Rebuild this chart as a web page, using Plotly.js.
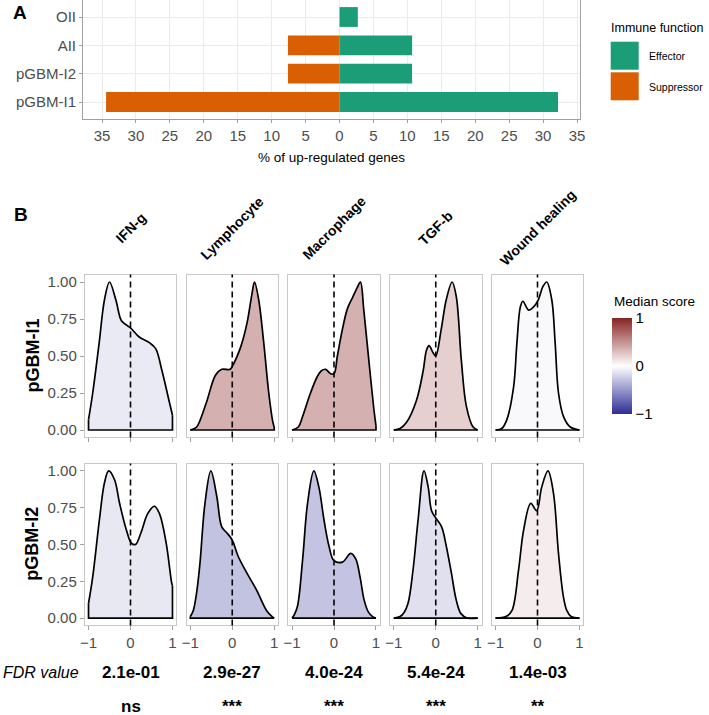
<!DOCTYPE html>
<html>
<head>
<meta charset="utf-8">
<script src="https://cdn.plot.ly/plotly-3.0.1.min.js"></script>
<style>html,body{margin:0;padding:0;background:#fff;}#chart{width:709px;height:715px;}</style>
</head>
<body>
<div id="chart"></div>
<script>
// ---------------- DATA ----------------
// Panel A
const categories = ["pGBM-I1", "pGBM-I2", "AII", "OII"];
const suppressorPct = [34.4, 7.6, 7.6, 0];
const effectorPct = [32.2, 10.7, 10.7, 2.7];
const pctTickVals = [-35, -30, -25, -20, -15, -10, -5, 0, 5, 10, 15, 20, 25, 30, 35];
const pctTickText = ["35", "30", "25", "20", "15", "10", "5", "0", "5", "10", "15", "20", "25", "30", "35"];

// Panel B
const signatures = ["IFN-g", "Lymphocyte", "Macrophage", "TGF-b", "Wound healing"];
const groups = ["pGBM-I1", "pGBM-I2"];
const medianScoreI1 = [-0.10, 0.36, 0.36, 0.22, -0.03];
const medianScoreI2 = [-0.11, -0.29, -0.28, -0.15, 0.08];
const fdrLabels = ["2.1e-01", "2.9e-27", "4.0e-24", "5.4e-24", "1.4e-03"];
const sigLabels = ["ns", "***", "***", "***", "**"];
const scoreTicks = [-1, 0, 1];
const scoreTickText = ["\u22121", "0", "1"];
const densTicks = [0, 0.25, 0.5, 0.75, 1];
const densTickText = ["0.00", "0.25", "0.50", "0.75", "1.00"];

// scaled densities, pGBM-I1
const I1_IFNg_x = [-1, -0.9, -0.75, -0.62, -0.5, -0.35, -0.22, -0.1, 0, 0.2, 0.45, 0.6, 0.75, 0.9, 1];
const I1_IFNg_y = [0.07, 0.25, 0.58, 0.88, 1.0, 0.88, 0.74, 0.71, 0.69, 0.63, 0.59, 0.55, 0.40, 0.22, 0.10];
const I1_Lymph_x = [-1, -0.85, -0.76, -0.6, -0.4, -0.25, -0.05, 0, 0.2, 0.35, 0.47, 0.53, 0.63, 0.75, 0.87, 0.97, 1];
const I1_Lymph_y = [0, 0.02, 0.07, 0.2, 0.37, 0.41, 0.41, 0.43, 0.56, 0.72, 0.92, 1.0, 0.88, 0.59, 0.25, 0.05, 0.02];
const I1_Macro_x = [-1, -0.85, -0.75, -0.56, -0.4, -0.3, -0.2, -0.08, 0, 0.08, 0.2, 0.32, 0.45, 0.55, 0.63, 0.71, 0.83, 0.95, 1];
const I1_Macro_y = [0, 0.02, 0.09, 0.25, 0.36, 0.40, 0.41, 0.38, 0.38, 0.50, 0.68, 0.82, 0.90, 0.96, 1.0, 0.81, 0.47, 0.14, 0.03];
const I1_TGFb_x = [-1, -0.85, -0.7, -0.46, -0.3, -0.22, -0.16, -0.06, 0, 0.13, 0.25, 0.39, 0.49, 0.61, 0.73, 0.89, 1];
const I1_TGFb_y = [0, 0.01, 0.05, 0.2, 0.4, 0.54, 0.57, 0.52, 0.50, 0.68, 0.88, 1.0, 0.90, 0.47, 0.16, 0.02, 0];
const I1_Wound_x = [-1, -0.85, -0.73, -0.57, -0.49, -0.41, -0.35, -0.21, -0.1, 0.02, 0.13, 0.22, 0.34, 0.42, 0.5, 0.62, 0.78, 1];
const I1_Wound_y = [0, 0.01, 0.07, 0.29, 0.59, 0.83, 0.87, 0.81, 0.83, 0.88, 0.97, 1.0, 0.88, 0.59, 0.25, 0.09, 0.02, 0];

// scaled densities, pGBM-I2
const I2_IFNg_x = [-1, -0.9, -0.74, -0.62, -0.52, -0.38, -0.26, -0.1, 0.02, 0.12, 0.25, 0.41, 0.57, 0.69, 0.85, 0.98, 1];
const I2_IFNg_y = [0.10, 0.28, 0.67, 0.92, 1.0, 0.94, 0.78, 0.60, 0.51, 0.50, 0.58, 0.71, 0.76, 0.71, 0.51, 0.24, 0.22];
const I2_Lymph_x = [-1, -0.93, -0.85, -0.77, -0.65, -0.51, -0.37, -0.25, -0.13, 0, 0.14, 0.34, 0.58, 0.82, 0.95, 1];
const I2_Lymph_y = [0.01, 0.05, 0.17, 0.37, 0.78, 1.0, 0.83, 0.62, 0.58, 0.53, 0.42, 0.31, 0.19, 0.05, 0.01, 0];
const I2_Macro_x = [-1, -0.95, -0.87, -0.75, -0.63, -0.48, -0.36, -0.24, -0.12, 0, 0.2, 0.4, 0.52, 0.62, 0.72, 0.82, 0.92, 1];
const I2_Macro_y = [0, 0.02, 0.08, 0.39, 0.78, 1.0, 0.89, 0.67, 0.49, 0.39, 0.38, 0.44, 0.40, 0.28, 0.12, 0.04, 0.01, 0];
const I2_TGFb_x = [-1, -0.85, -0.75, -0.66, -0.54, -0.42, -0.28, -0.18, -0.1, 0, 0.14, 0.25, 0.37, 0.49, 0.6, 0.75, 1];
const I2_TGFb_y = [0, 0.01, 0.04, 0.1, 0.33, 0.67, 1.0, 0.89, 0.73, 0.68, 0.62, 0.49, 0.31, 0.12, 0.03, 0.0, 0];
const I2_Wound_x = [-1, -0.75, -0.61, -0.45, -0.33, -0.16, -0.02, 0.1, 0.25, 0.38, 0.5, 0.62, 0.7, 0.8, 1];
const I2_Wound_y = [0, 0.01, 0.05, 0.33, 0.60, 0.78, 0.73, 0.89, 1.0, 0.85, 0.44, 0.14, 0.05, 0.01, 0];

const densI1 = [[I1_IFNg_x, I1_IFNg_y], [I1_Lymph_x, I1_Lymph_y], [I1_Macro_x, I1_Macro_y], [I1_TGFb_x, I1_TGFb_y], [I1_Wound_x, I1_Wound_y]];
const densI2 = [[I2_IFNg_x, I2_IFNg_y], [I2_Lymph_x, I2_Lymph_y], [I2_Macro_x, I2_Macro_y], [I2_TGFb_x, I2_TGFb_y], [I2_Wound_x, I2_Wound_y]];

// ---------------- STYLE / LAYOUT ----------------
const W = 709, H = 715;
const FONT = "Liberation Sans, Arial, Helvetica, sans-serif";
const px = v => v / W;
const py = v => 1 - v / H;
const GREEN = "#1B9E77", ORANGE = "#D95F02";
const HI = [135, 35, 35], LO = [45, 45, 150];
function scoreColor(m) {
  const c = m >= 0 ? HI : LO;
  const t = Math.min(1, Math.abs(m));
  return "rgb(" + c.map(v => Math.round(255 - (255 - v) * t)).join(",") + ")";
}

const traces = [];
const shapes = [];
const annotations = [];
const layout = {
  width: W, height: H,
  margin: {l: 0, r: 0, t: 0, b: 0},
  paper_bgcolor: "#fff", plot_bgcolor: "#fff",
  showlegend: false,
  barmode: "relative",
  font: {family: FONT, color: "#000"},
  xaxis: {
    domain: [px(83), px(580)], range: [-37.8, 35.44], anchor: "y",
    tickvals: pctTickVals, ticktext: pctTickText,
    showgrid: true, gridcolor: "#EBEBEB", gridwidth: 1, zeroline: false,
    showline: true, mirror: true, linecolor: "#A0A0A0", linewidth: 1,
    ticks: "outside", ticklen: 3, tickcolor: "#A0A0A0",
    tickfont: {size: 15, color: "#4D4D4D", family: FONT}, fixedrange: true
  },
  yaxis: {
    domain: [py(119), py(0)], anchor: "x", type: "category",
    categoryorder: "array", categoryarray: categories, range: [-0.6, 3.6],
    showgrid: true, gridcolor: "#EBEBEB", gridwidth: 1, zeroline: false,
    showline: true, mirror: true, linecolor: "#A0A0A0", linewidth: 1,
    ticks: "outside", ticklen: 3, tickcolor: "#A0A0A0",
    tickfont: {size: 15, color: "#4D4D4D", family: FONT}, fixedrange: true
  }
};

// bars
traces.push({type: "bar", orientation: "h", y: categories, x: suppressorPct.map(v => -v),
  width: 0.7, marker: {color: ORANGE, line: {width: 0}}, xaxis: "x", yaxis: "y", name: "Suppressor"});
traces.push({type: "bar", orientation: "h", y: categories, x: effectorPct,
  width: 0.7, marker: {color: GREEN, line: {width: 0}}, xaxis: "x", yaxis: "y", name: "Effector"});

// density panels
const colCenters = [130.5, 232.25, 334, 435.75, 537.5];
const halfW = 45.75;
const rowDomains = [[437.4, 274.6], [625.4, 463.6]];
const rowData = [densI1, densI2];
const rowMedians = [medianScoreI1, medianScoreI2];
let ax = 2;
for (let r = 0; r < 2; r++) {
  for (let c = 0; c < 5; c++) {
    const xa = "x" + ax, ya = "y" + ax;
    layout["xaxis" + ax] = {
      domain: [px(colCenters[c] - halfW), px(colCenters[c] + halfW)],
      range: [-1.09, 1.09], anchor: ya,
      tickvals: scoreTicks, ticktext: scoreTickText, showticklabels: r === 1,
      ticks: "outside", ticklen: 4, tickcolor: "#A0A0A0", tickwidth: 1,
      tickfont: {size: 15, color: "#4D4D4D", family: FONT},
      showgrid: false, zeroline: false,
      showline: true, mirror: true, linecolor: "#C8C8C8", linewidth: 1, fixedrange: true
    };
    layout["yaxis" + ax] = {
      domain: [py(rowDomains[r][0]), py(rowDomains[r][1])],
      range: [-0.05, 1.05], anchor: xa,
      tickvals: densTicks, ticktext: densTickText, showticklabels: c === 0,
      ticks: c === 0 ? "outside" : "", ticklen: 4, tickcolor: "#A0A0A0", tickwidth: 1,
      tickfont: {size: 15, color: "#4D4D4D", family: FONT},
      showgrid: false, zeroline: false,
      showline: true, mirror: true, linecolor: "#C8C8C8", linewidth: 1, fixedrange: true
    };
    const xs = rowData[r][c][0], ys = rowData[r][c][1];
    const n = xs.length;
    traces.push({type: "scatter", mode: "lines", x: xs, y: ys, xaxis: xa, yaxis: ya,
      line: {color: "#000", width: 1.7, shape: "spline", smoothing: 1},
      fill: "tozeroy", fillcolor: scoreColor(rowMedians[r][c]), hoverinfo: "skip"});
    traces.push({type: "scatter", mode: "lines",
      x: [xs[0], xs[0], xs[n - 1], xs[n - 1]], y: [ys[0], 0, 0, ys[n - 1]],
      xaxis: xa, yaxis: ya, line: {color: "#000", width: 1.7}, hoverinfo: "skip"});
    shapes.push({type: "line", xref: xa, yref: ya + " domain", x0: 0, x1: 0, y0: 0, y1: 1,
      line: {color: "#000", width: 1.6, dash: "6px,4px"}, layer: "above"});
    ax++;
  }
}

// colour bar carrier
traces.push({type: "scatter", mode: "markers", x: [null], y: [null], xaxis: "x2", yaxis: "y2",
  marker: {color: [0], cmin: -1, cmax: 1, showscale: true,
    colorscale: [[0, "rgb(45,45,150)"], [0.5, "rgb(255,255,255)"], [1, "rgb(135,35,35)"]],
    colorbar: {x: px(612), xanchor: "left", xref: "paper", y: py(366), yanchor: "middle", yref: "paper",
      len: 96, lenmode: "pixels", thickness: 20, thicknessmode: "pixels",
      xpad: 0, ypad: 0, outlinewidth: 0,
      tickvals: scoreTicks, ticktext: scoreTickText, ticks: "inside", ticklen: 4,
      tickcolor: "#fff", tickwidth: 1.5,
      tickfont: {size: 15, color: "#000", family: FONT}, title: {text: ""}}},
  hoverinfo: "skip"});

// text
function ann(x, y, text, opts) {
  annotations.push(Object.assign({x: px(x), y: py(y), xref: "paper", yref: "paper", text: text,
    showarrow: false, xanchor: "center", yanchor: "middle",
    font: {family: FONT, size: 14, color: "#000"}}, opts || {}));
}
ann(20, 12, "<b>A</b>", {font: {family: FONT, size: 19, color: "#000"}});
ann(21, 215, "<b>B</b>", {font: {family: FONT, size: 19, color: "#000"}});
ann(331.5, 157, "% of up-regulated genes", {font: {family: FONT, size: 13.5, color: "#000"}});

// legend
ann(609, 28, "Immune function", {xanchor: "left", font: {family: FONT, size: 12.5, color: "#000"}});
const legItems = [["Effector", GREEN, 41.7], ["Suppressor", ORANGE, 72.3]];
legItems.forEach(([lab, col, top]) => {
  shapes.push({type: "rect", xref: "paper", yref: "paper", x0: px(610.7), x1: px(638.7),
    y0: py(top + 28), y1: py(top), fillcolor: col, line: {width: 0}});
  ann(646.7, top + 14.5, lab, {xanchor: "left", font: {family: FONT, size: 10.5, color: "#000"}});
});

// strip labels
signatures.forEach((s, i) => {
  ann(colCenters[i], 228, "<b>" + s + "</b>", {textangle: -45, font: {family: FONT, size: 14, color: "#000"}});
});
// row labels
ann(32, 355.5, "<b>" + groups[0] + "</b>", {textangle: -90, font: {family: FONT, size: 18, color: "#000"}});
ann(32, 543.7, "<b>" + groups[1] + "</b>", {textangle: -90, font: {family: FONT, size: 18, color: "#000"}});

// colour bar title
ann(612, 302, "Median score", {xanchor: "left", font: {family: FONT, size: 13.5, color: "#000"}});

// FDR row
ann(81, 672, "<i>FDR value</i>", {xanchor: "right", font: {family: FONT, size: 16, color: "#000"}});
fdrLabels.forEach((t, i) => ann(colCenters[i], 672, "<b>" + t + "</b>", {font: {family: FONT, size: 17, color: "#000"}}));
sigLabels.forEach((t, i) => ann(colCenters[i], 706, "<b>" + t + "</b>", {font: {family: FONT, size: 17, color: "#000"}}));

layout.shapes = shapes;
layout.annotations = annotations;

Plotly.newPlot("chart", traces, layout, {displayModeBar: false, staticPlot: true});
</script>
</body>
</html>
